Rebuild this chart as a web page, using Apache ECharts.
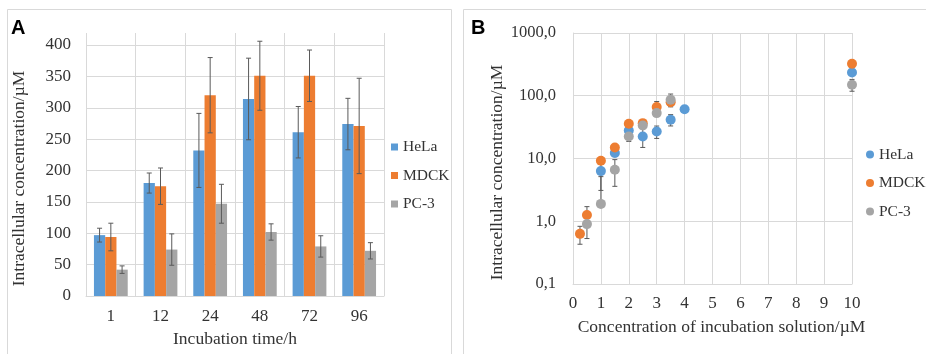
<!DOCTYPE html>
<html>
<head>
<meta charset="utf-8">
<script src="https://cdn.jsdelivr.net/npm/echarts@6/dist/echarts.min.js"></script>
<style>
  html, body { margin: 0; padding: 0; background: #fff; }
  #chart { width: 926px; height: 354px; }
</style>
</head>
<body>
<div id="chart"></div>
<script>
// ---- panel A: uptake vs incubation time (bars + SD) ----
const timeLabels = ['1', '12', '24', '48', '72', '96'];
const helaTime = [97, 180, 232, 314, 261, 274];
const helaTimeErr = [11, 16, 59, 65, 41, 41];
const mdckTime = [94, 175, 320, 351, 351, 271];
const mdckTimeErr = [22, 29, 60, 55, 41, 76];
const pc3Time = [42, 74, 147, 102, 79, 72];
const pc3TimeErr = [6, 25, 31, 13, 17, 13];

// ---- panel B: uptake vs concentration (log scale) ----
const helaConc = [1, 1.5, 2, 2.5, 3, 3.5, 4, 10];
const helaConcVal = [6.3, 12.2, 27.9, 22.4, 26.9, 41.5, 61, 235];
const helaConcErr = [3.2, 1.5, 2.5, 7.4, 6, 8.5, 0, 20];
const mdckConc = [0.25, 0.5, 1, 1.5, 2, 2.5, 3, 3.5, 10];
const mdckConcVal = [0.63, 1.26, 9.2, 15, 35.7, 36.6, 66, 79, 324];
const mdckConcErr = [0.2, 0.45, 0.8, 1, 3, 3, 15, 10, 30];
const pc3Conc = [0.5, 1, 1.5, 2, 2.5, 3, 3.5, 10];
const pc3ConcVal = [0.9, 1.89, 6.6, 22.4, 33.6, 52.9, 86.5, 150];
const pc3ConcErr = [0.37, 3.25, 3, 3.7, 3, 5, 20, 32];

const colors = ['#5B9BD5', '#ED7D31', '#A5A5A5'];
const names = ['HeLa', 'MDCK', 'PC-3'];
const serif = 'Liberation Serif';
const textColor = '#333333';
const gridColor = '#D9D9D9';
const errColor = '#5a5a5a';
const catGap = 0.32;

const chart = echarts.init(document.getElementById('chart'));

// error bars for the grouped bars, k = position inside the group
function errBarA(k) {
  return function (params, api) {
    const i = api.value(0), v = api.value(1), e = api.value(2);
    const band = api.size([1, 0])[0];
    const barW = band * (1 - catGap) / 3;
    const dx = (k - 1) * barW;
    const top = api.coord([i, v + e]);
    const bot = api.coord([i, v - e]);
    const x = top[0] + dx;
    const st = { stroke: errColor, lineWidth: 1 };
    return {
      type: 'group',
      children: [
        { type: 'line', shape: { x1: x, y1: top[1], x2: x, y2: bot[1] }, style: st },
        { type: 'line', shape: { x1: x - 2.5, y1: top[1], x2: x + 2.5, y2: top[1] }, style: st },
        { type: 'line', shape: { x1: x - 2.5, y1: bot[1], x2: x + 2.5, y2: bot[1] }, style: st }
      ]
    };
  };
}

// error bars on the log axis, lower part dropped when it goes below 0
function errBarB(params, api) {
  const x = api.value(0), v = api.value(1), e = api.value(2);
  if (!e) return;
  const top = api.coord([x, v + e]);
  const mid = api.coord([x, v]);
  const hasLow = v - e > 0;
  const bot = hasLow ? api.coord([x, v - e]) : mid;
  const st = { stroke: errColor, lineWidth: 1 };
  const children = [
    { type: 'line', shape: { x1: top[0], y1: top[1], x2: top[0], y2: bot[1] }, style: st },
    { type: 'line', shape: { x1: top[0] - 2.5, y1: top[1], x2: top[0] + 2.5, y2: top[1] }, style: st }
  ];
  if (hasLow) {
    children.push({ type: 'line', shape: { x1: top[0] - 2.5, y1: bot[1], x2: top[0] + 2.5, y2: bot[1] }, style: st });
  }
  return { type: 'group', children: children };
}

const timeVals = [helaTime, mdckTime, pc3Time];
const timeErrs = [helaTimeErr, mdckTimeErr, pc3TimeErr];
const concX = [helaConc, mdckConc, pc3Conc];
const concVals = [helaConcVal, mdckConcVal, pc3ConcVal];
const concErrs = [helaConcErr, mdckConcErr, pc3ConcErr];

const series = [];
names.forEach((n, k) => {
  series.push({
    name: n, type: 'bar', xAxisIndex: 0, yAxisIndex: 0,
    data: timeVals[k], barGap: 0, barCategoryGap: (catGap * 100) + '%',
    itemStyle: { color: colors[k] }
  });
});
names.forEach((n, k) => {
  series.push({
    type: 'custom', xAxisIndex: 0, yAxisIndex: 0, z: 5,
    renderItem: errBarA(k),
    encode: { x: 0, y: 1 },
    data: timeVals[k].map((v, i) => [i, v, timeErrs[k][i]])
  });
});
// error bars first so the markers sit on top of them
names.forEach((n, k) => {
  series.push({
    type: 'custom', xAxisIndex: 1, yAxisIndex: 1, z: 1,
    renderItem: errBarB,
    encode: { x: 0, y: 1 },
    data: concX[k].map((x, i) => [x, concVals[k][i], concErrs[k][i]])
  });
});
names.forEach((n, k) => {
  series.push({
    name: n, type: 'scatter', xAxisIndex: 1, yAxisIndex: 1, z: 3,
    symbol: 'circle', symbolSize: 10,
    data: concX[k].map((x, i) => [x, concVals[k][i]]),
    itemStyle: { color: colors[k], opacity: 1 }
  });
});

const option = {
  animation: false,
  backgroundColor: '#fff',
  textStyle: { fontFamily: serif, color: textColor },
  graphic: [
    { type: 'rect', shape: { x: 7.5, y: 9.5, width: 444, height: 360 }, style: { fill: 'none', stroke: gridColor, lineWidth: 1 }, z: -10 },
    { type: 'rect', shape: { x: 463.5, y: 9.5, width: 480, height: 360 }, style: { fill: 'none', stroke: gridColor, lineWidth: 1 }, z: -10 },
    { type: 'text', left: 11, top: 18, style: { text: 'A', font: 'bold 20px "Liberation Sans"', fill: '#000' } },
    { type: 'text', left: 471, top: 18, style: { text: 'B', font: 'bold 20px "Liberation Sans"', fill: '#000' } }
  ],
  legend: [
    {
      data: names, orient: 'vertical', left: 386, top: 134,
      icon: 'rect', itemWidth: 7, itemHeight: 7, itemGap: 12.5,
      textStyle: { fontFamily: serif, fontSize: 15.5, color: textColor }
    },
    {
      data: names, orient: 'vertical', left: 861, top: 141.5,
      icon: 'circle', itemWidth: 8, itemHeight: 8, itemGap: 12.5,
      textStyle: { fontFamily: serif, fontSize: 15.5, color: textColor }
    }
  ],
  grid: [
    { left: 86, top: 45, width: 298, height: 251 },
    { left: 573, top: 33, width: 279, height: 251 },
    // taller frame for panel A: category separators reach above 400 as in Excel
    { left: 86, top: 33, width: 298, height: 263 }
  ],
  xAxis: [
    {
      gridIndex: 0, type: 'category', data: timeLabels,
      name: 'Incubation time/h', nameLocation: 'middle', nameGap: 34,
      nameTextStyle: { fontFamily: serif, fontSize: 17.5, color: textColor },
      axisLine: { lineStyle: { color: gridColor } },
      axisTick: { show: false },
      axisLabel: { margin: 12, fontSize: 17, fontFamily: serif, color: textColor },
      splitLine: { show: false }
    },
    {
      gridIndex: 1, type: 'value', min: 0, max: 10, interval: 1,
      name: 'Concentration of incubation solution/µM', nameLocation: 'middle', nameGap: 34,
      nameTextStyle: { fontFamily: serif, fontSize: 17.5, color: textColor, padding: [0, 0, 0, 18] },
      axisLine: { lineStyle: { color: gridColor } },
      axisTick: { show: false },
      axisLabel: { margin: 11, fontSize: 17, fontFamily: serif, color: textColor },
      splitLine: { show: true, lineStyle: { color: gridColor } }
    },
    {
      gridIndex: 2, type: 'category', data: timeLabels,
      axisLine: { show: false }, axisTick: { show: false }, axisLabel: { show: false },
      splitLine: { show: true, interval: 0, lineStyle: { color: gridColor } }
    }
  ],
  yAxis: [
    {
      gridIndex: 0, type: 'value', min: 0, max: 400, interval: 50,
      name: 'Intracellular concentration/µM', nameLocation: 'middle', nameGap: 58,
      nameTextStyle: { fontFamily: serif, fontSize: 17.5, color: textColor, padding: [0, 16, 0, 0] },
      axisLine: { show: false },
      axisTick: { show: false },
      axisLabel: { margin: 15, fontSize: 17, fontFamily: serif, color: textColor },
      splitLine: { lineStyle: { color: gridColor } }
    },
    {
      gridIndex: 1, type: 'log', logBase: 10, min: 0.1, max: 1000,
      name: 'Intracellular concentration/µM', nameLocation: 'middle', nameGap: 67,
      nameTextStyle: { fontFamily: serif, fontSize: 17.5, color: textColor, padding: [0, 28, 0, 0] },
      axisLine: { show: true, lineStyle: { color: gridColor } },
      axisTick: { show: false },
      axisLabel: {
        margin: 17, fontSize: 16.5, fontFamily: serif, color: textColor,
        formatter: v => Number(v).toFixed(1).replace('.', ',')
      },
      splitLine: { lineStyle: { color: gridColor } }
    },
    {
      gridIndex: 2, type: 'value', min: 0, max: 1, show: false
    }
  ],
  series: series
};

chart.setOption(option);
</script>
</body>
</html>
